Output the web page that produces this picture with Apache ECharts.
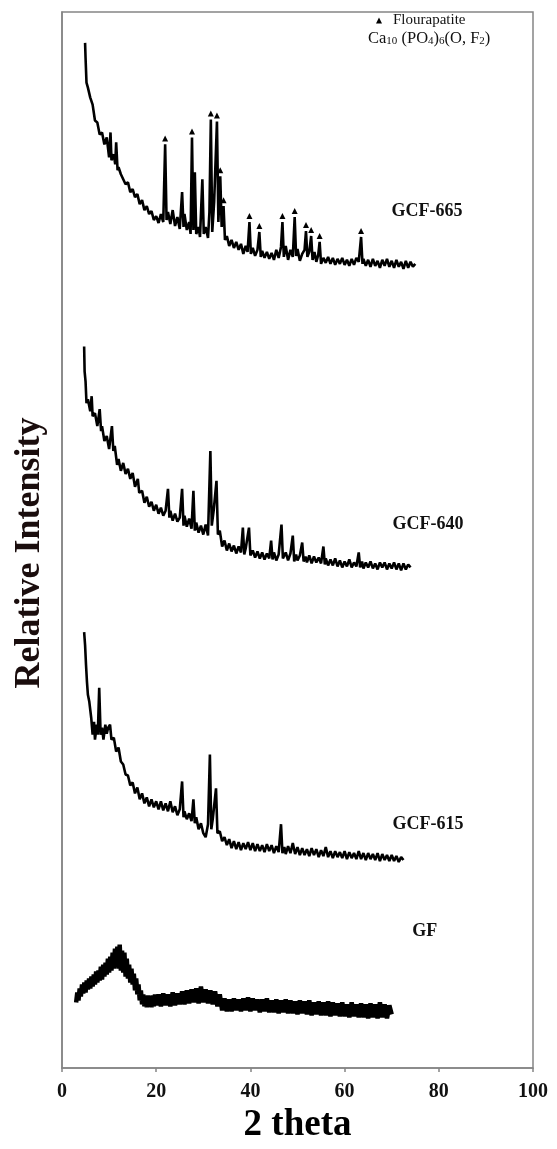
<!DOCTYPE html>
<html>
<head>
<meta charset="utf-8">
<script src="https://cdn.jsdelivr.net/npm/echarts@6/dist/echarts.min.js"></script>
<style>
  html, body { margin: 0; padding: 0; background: #fff; overflow: hidden; }
  #main { width: 557px; height: 1149px; }
</style>
</head>
<body>
<div id="main"></div>
<script>
// values, y in "offset intensity" units (stacked patterns)
var xTicks = [0, 20, 40, 60, 80, 100];

var gcf665 = [[4.9,1030],[5.0,1015],[5.2,990],[5.5,985],[6.0,975],[6.5,968],[7.0,952],[7.5,950],[8.0,938],[8.5,940],[9.0,928],[9.5,935],[10.0,915],[10.3,940],[10.5,912],[11.0,918],[11.3,908],[11.5,930],[11.8,902],[12.0,905],[12.5,898],[13.0,893],[13.5,888],[14.0,890],[14.5,880],[15.0,883],[15.5,875],[16.0,878],[16.5,868],[17.0,872],[17.5,862],[18.0,866],[18.5,858],[19.0,861],[19.5,852],[20.0,856],[20.5,849],[21.0,858],[21.5,850],[21.9,928],[22.2,852],[22.5,860],[23.0,848],[23.5,862],[24.0,846],[24.5,855],[25.0,843],[25.5,880],[25.8,845],[26.0,858],[26.5,842],[27.0,850],[27.3,838],[27.6,935],[27.9,842],[28.2,900],[28.5,838],[29.0,845],[29.3,835],[29.8,893],[30.1,838],[30.5,845],[31.0,834],[31.3,860],[31.6,953],[31.9,840],[32.3,870],[32.9,951],[33.2,850],[33.6,896],[33.9,845],[34.3,866],[34.6,832],[35.0,836],[35.5,826],[36.0,832],[36.5,824],[37.0,830],[37.5,822],[38.0,828],[38.5,818],[39.0,826],[39.4,820],[39.8,850],[40.1,818],[40.5,824],[41.0,816],[41.5,822],[41.9,840],[42.2,815],[42.5,821],[43.0,814],[43.5,820],[44.0,813],[44.5,819],[45.0,812],[45.5,822],[46.0,814],[46.5,825],[46.8,850],[47.1,815],[47.5,826],[48.0,812],[48.5,822],[49.0,815],[49.4,855],[49.7,816],[50.0,823],[50.5,811],[51.0,818],[51.5,822],[51.8,841],[52.1,815],[52.5,820],[52.9,836],[53.2,812],[53.6,820],[54.0,810],[54.4,817],[54.7,830],[55.0,808],[55.5,814],[56.0,809],[56.5,815],[57.0,808],[57.5,814],[58.0,807],[58.5,813],[59.0,808],[59.5,814],[60.0,807],[60.5,812],[61.0,806],[61.5,813],[62.0,807],[62.5,814],[63.0,810],[63.5,835],[63.8,808],[64.0,813],[64.5,806],[65.0,812],[65.5,805],[66.0,813],[66.5,806],[67.0,811],[67.5,804],[68.0,812],[68.5,806],[69.0,813],[69.5,805],[70.0,811],[70.5,804],[71.0,812],[71.5,805],[72.0,810],[72.5,803],[73.0,811],[73.5,804],[74.0,810],[74.5,805],[75.0,808]];

var gcf640 = [[4.7,725],[4.8,700],[5.0,690],[5.2,668],[5.5,672],[6.0,660],[6.3,675],[6.5,655],[7.0,658],[7.5,645],[8.0,662],[8.3,640],[8.5,645],[9.0,630],[9.5,635],[10.0,622],[10.6,645],[10.9,620],[11.2,625],[11.7,606],[12.0,612],[12.5,600],[13.0,608],[13.5,597],[14.0,602],[14.5,592],[15.0,598],[15.5,584],[16.1,592],[16.4,578],[17.0,580],[17.5,568],[18.0,574],[18.5,564],[19.0,569],[19.5,560],[20.0,566],[20.5,557],[21.0,563],[21.5,555],[22.0,560],[22.5,582],[22.8,553],[23.0,560],[23.5,550],[24.0,557],[24.5,549],[25.0,553],[25.5,582],[25.8,545],[26.0,555],[26.5,544],[27.0,552],[27.5,542],[27.9,580],[28.2,540],[28.5,548],[29.0,538],[29.5,545],[30.0,536],[30.5,546],[31.0,535],[31.5,620],[31.8,545],[32.2,560],[32.8,590],[33.1,536],[33.5,540],[34.0,524],[34.5,530],[35.0,520],[35.5,527],[36.0,519],[36.5,525],[37.0,517],[37.5,524],[38.0,518],[38.4,543],[38.7,516],[39.0,522],[39.7,543],[40.0,515],[40.5,520],[41.0,513],[41.5,519],[42.0,512],[42.5,518],[43.0,511],[43.5,517],[44.0,512],[44.4,530],[44.7,511],[45.0,518],[45.5,510],[46.0,516],[46.6,546],[46.9,512],[47.5,518],[48.0,510],[48.5,517],[49.0,535],[49.3,509],[49.7,516],[50.0,510],[50.5,515],[51.0,528],[51.3,509],[51.7,514],[52.0,508],[52.5,515],[53.0,507],[53.5,514],[54.0,508],[54.5,513],[55.0,507],[55.5,524],[55.8,506],[56.0,512],[56.5,505],[57.0,511],[57.5,505],[58.0,512],[58.5,504],[59.0,510],[59.5,503],[60.0,509],[60.5,504],[61.0,511],[61.5,503],[62.0,508],[62.5,504],[63.0,518],[63.3,503],[63.7,509],[64.0,502],[64.5,508],[65.0,503],[65.5,509],[66.0,502],[66.5,507],[67.0,501],[67.5,508],[68.0,503],[68.5,508],[69.0,501],[69.5,507],[70.0,502],[70.5,508],[71.0,501],[71.5,507],[72.0,500],[72.5,507],[73.0,501],[73.5,506],[74.0,503]];

var gcf615 = [[4.7,438],[4.9,425],[5.1,405],[5.3,388],[5.5,375],[5.8,368],[6.2,352],[6.5,335],[6.8,348],[7.0,330],[7.4,345],[7.6,335],[7.9,382],[8.2,335],[8.5,342],[8.8,330],[9.2,345],[9.5,336],[9.8,342],[10.2,345],[10.5,330],[11.0,332],[11.5,318],[12.0,322],[12.5,308],[13.0,305],[13.5,295],[14.0,294],[14.5,284],[15.0,287],[15.5,276],[16.0,282],[16.5,270],[17.0,276],[17.5,266],[18.0,272],[18.5,263],[19.0,270],[19.5,262],[20.0,268],[20.5,260],[21.0,268],[21.5,259],[22.0,266],[22.5,258],[23.0,268],[23.5,257],[24.0,263],[24.5,254],[25.0,260],[25.5,288],[25.8,252],[26.0,258],[26.5,250],[27.0,256],[27.5,248],[27.9,270],[28.2,246],[28.5,252],[29.0,240],[29.5,246],[30.0,236],[30.5,232],[31.0,245],[31.4,315],[31.7,240],[32.0,250],[32.7,281],[33.0,236],[33.5,238],[34.0,228],[34.5,232],[35.0,224],[35.5,230],[36.0,221],[36.5,228],[37.0,220],[37.5,227],[38.0,219],[38.5,226],[39.0,220],[39.5,227],[40.0,219],[40.5,226],[41.0,218],[41.5,225],[42.0,218],[42.5,224],[43.0,217],[43.5,225],[44.0,218],[44.5,224],[45.0,216],[45.5,223],[46.0,217],[46.5,245],[46.8,216],[47.2,222],[47.5,215],[48.0,223],[48.5,216],[49.0,226],[49.5,215],[50.0,222],[50.5,214],[51.0,221],[51.5,214],[52.0,220],[52.5,213],[53.0,221],[53.5,214],[54.0,220],[54.5,212],[55.0,219],[55.5,213],[56.0,222],[56.5,212],[57.0,218],[57.5,211],[58.0,218],[58.5,212],[59.0,217],[59.5,211],[60.0,218],[60.5,210],[61.0,217],[61.5,211],[62.0,216],[62.5,210],[63.0,218],[63.5,210],[64.0,216],[64.5,209],[65.0,216],[65.5,210],[66.0,215],[66.5,209],[67.0,216],[67.5,208],[68.0,215],[68.5,209],[69.0,214],[69.5,208],[70.0,214],[70.5,208],[71.0,213],[71.5,207],[72.0,212],[72.5,209]];

var gf = [[3.0,66],[3.25,76],[3.5,68],[3.75,80],[4.0,72],[4.25,84],[4.5,75],[4.75,86],[5.0,76],[5.25,88],[5.5,79],[5.75,90],[6.0,80],[6.25,92],[6.5,82],[6.75,94],[7.0,84],[7.25,97],[7.5,86],[7.75,98],[8.0,88],[8.25,102],[8.5,89],[8.75,104],[9.0,92],[9.25,106],[9.5,94],[9.75,110],[10.0,96],[10.25,112],[10.5,98],[10.75,116],[11.0,100],[11.25,120],[11.5,102],[11.75,122],[12.0,100],[12.25,124],[12.5,98],[12.75,118],[13.0,96],[13.25,116],[13.5,92],[13.75,110],[14.0,90],[14.25,104],[14.5,86],[14.75,100],[15.0,84],[15.25,95],[15.5,78],[15.75,90],[16.0,74],[16.25,84],[16.5,68],[16.75,78],[17.0,64],[17.25,74],[17.5,62],[17.75,72],[18.0,61],[18.25,73],[18.5,62],[18.75,72],[19.0,61],[19.25,73],[19.5,62],[19.75,74],[20.0,63],[20.5,74],[21.0,62],[21.5,75],[22.0,63],[22.5,74],[23.0,62],[23.5,76],[24.0,63],[24.5,75],[25.0,64],[25.5,77],[26.0,64],[26.5,78],[27.0,65],[27.5,79],[28.0,66],[28.5,80],[29.0,65],[29.5,82],[30.0,66],[30.5,79],[31.0,65],[31.5,78],[32.0,64],[32.5,77],[33.0,62],[33.5,74],[34.0,58],[34.5,70],[35.0,57],[35.5,69],[36.0,57],[36.5,70],[37.0,58],[37.5,69],[38.0,57],[38.5,70],[39.0,58],[39.5,71],[40.0,57],[40.5,70],[41.0,58],[41.5,69],[42.0,56],[42.5,69],[43.0,57],[43.5,70],[44.0,56],[44.5,68],[45.0,56],[45.5,69],[46.0,55],[46.5,68],[47.0,56],[47.5,69],[48.0,55],[48.5,68],[49.0,55],[49.5,67],[50.0,54],[50.5,68],[51.0,55],[51.5,67],[52.0,54],[52.5,68],[53.0,53],[53.5,66],[54.0,54],[54.5,67],[55.0,53],[55.5,66],[56.0,53],[56.5,67],[57.0,52],[57.5,66],[58.0,53],[58.5,65],[59.0,52],[59.5,66],[60.0,52],[60.5,64],[61.0,51],[61.5,66],[62.0,52],[62.5,64],[63.0,51],[63.5,65],[64.0,51],[64.5,64],[65.0,50],[65.5,65],[66.0,51],[66.5,64],[67.0,50],[67.5,66],[68.0,51],[68.5,64],[69.0,50],[69.5,63],[70.0,54]];

// fluorapatite reflections marked on GCF-665
var apatitePeaks = [[21.9,934],[27.6,941],[31.6,959],[32.9,957],[33.6,902],[34.3,872],[39.8,856],[41.9,846],[46.8,856],[49.4,861],[51.8,847],[52.9,842],[54.7,836],[63.5,841]];

var sampleNames = ['GCF-665', 'GCF-640', 'GCF-615', 'GF'];
var labelAt = [[77.5,861],[77.7,546],[77.7,245],[77.0,137]];

var serif = "'Liberation Serif', 'DejaVu Serif', serif";
var frameColor = '#858585';

function trace(name, data, width) {
  return {
    name: name,
    type: 'line',
    data: data,
    showSymbol: false,
    symbol: 'none',
    lineStyle: { color: '#000', width: width, join: 'bevel' },
    z: 3
  };
}

var myChart = echarts.init(document.getElementById('main'));
var option = {
  animation: false,
  grid: {
    left: 62, right: 24, top: 12, bottom: 76,
    show: true, borderColor: frameColor, borderWidth: 1.5
  },
  legend: {
    data: ['Flourapatite'],
    left: 371, top: 8,
    icon: 'triangle',
    itemWidth: 6, itemHeight: 6,
    itemGap: 4,
    textStyle: { fontFamily: serif, fontSize: 15, color: '#111', padding: [0, 0, 0, 6] }
  },
  graphic: [{
    type: 'text',
    left: 368, top: 30,
    style: {
      text: '{n|Ca}{s|10}{n| (PO}{s|4}{n|)}{s|6}{n|(O, F}{s|2}{n|)}',
      rich: {
        n: { fontFamily: serif, fontSize: 16.5, fill: '#111', verticalAlign: 'bottom', lineHeight: 18 },
        s: { fontFamily: serif, fontSize: 11, fill: '#111', verticalAlign: 'bottom', lineHeight: 15 }
      }
    }
  }, {
    type: 'text',
    x: 30, y: 553,
    rotation: Math.PI / 2,
    style: {
      text: 'Relative Intensity',
      fontFamily: serif, fontSize: 36, fontWeight: 'bold', fill: '#1a0d0d',
      align: 'center', verticalAlign: 'middle'
    }
  }],
  xAxis: {
    type: 'value',
    min: xTicks[0], max: xTicks[xTicks.length - 1], interval: 20,
    name: '2 theta',
    nameLocation: 'middle',
    nameGap: 36,
    nameTextStyle: { fontFamily: serif, fontSize: 37, fontWeight: 'bold', color: '#000' },
    axisLine: { lineStyle: { color: frameColor, width: 1.5 } },
    axisTick: { show: true, length: 4, lineStyle: { color: frameColor, width: 1.5 } },
    axisLabel: { margin: 14, fontFamily: serif, fontSize: 20, fontWeight: 'bold', color: '#111' },
    splitLine: { show: false }
  },
  yAxis: {
    type: 'value',
    min: 0, max: 1061,
    axisLine: { show: true, lineStyle: { color: frameColor, width: 1.5 } },
    axisTick: { show: false },
    axisLabel: { show: false },
    splitLine: { show: false }
  },
  series: [
    trace(sampleNames[0], gcf665, 2.6),
    trace(sampleNames[1], gcf640, 2.6),
    trace(sampleNames[2], gcf615, 2.6),
    trace(sampleNames[3], gf, 4.5),
    {
      name: 'Flourapatite',
      type: 'scatter',
      data: apatitePeaks,
      symbol: 'triangle',
      symbolSize: 6,
      itemStyle: { color: '#000', opacity: 1 },
      z: 4
    },
    {
      name: 'labels',
      type: 'scatter',
      symbolSize: 0,
      data: sampleNames.map(function (n, i) { return { name: n, value: labelAt[i] }; }),
      itemStyle: { opacity: 1, color: '#111' },
      label: {
        show: true, position: 'inside', formatter: '{b}', opacity: 1,
        fontFamily: serif, fontSize: 18, fontWeight: 'bold', color: '#111',
        textBorderWidth: 0
      },
      z: 5
    }
  ]
};
myChart.setOption(option);
</script>
</body>
</html>
